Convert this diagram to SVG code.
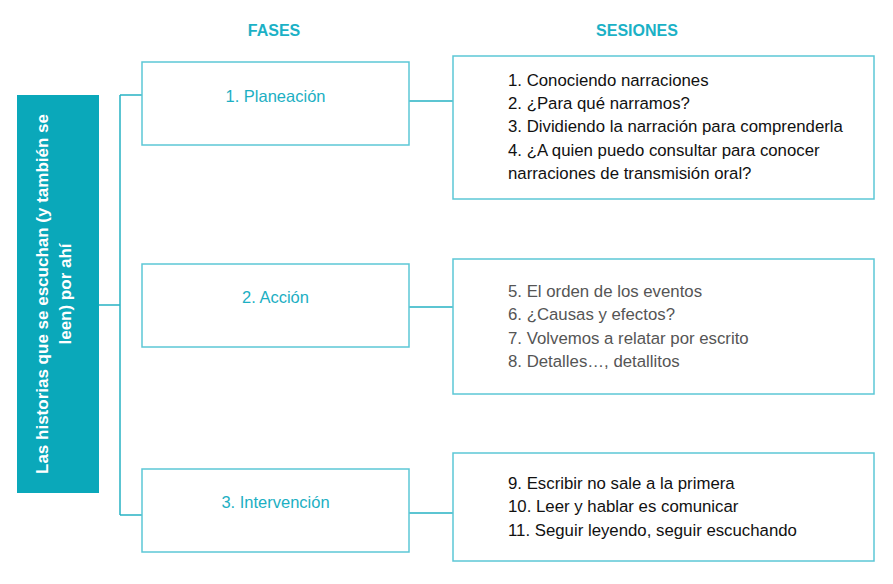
<svg xmlns="http://www.w3.org/2000/svg" width="893" height="584" viewBox="0 0 893 584">
<style>
.box{fill:#fff;stroke:#5cc7d6;stroke-width:1.5}
.con{fill:none;stroke:#27b2c4;stroke-width:1.5}
.hdr{font-family:"Liberation Sans",Arial,sans-serif;font-size:16px;font-weight:bold;fill:#1bb1c6;text-anchor:middle}
.ph{font-family:"Liberation Sans",Arial,sans-serif;font-size:16.5px;fill:#1cafc3;text-anchor:middle}
.ses{font-family:"Liberation Sans",Arial,sans-serif;font-size:16.8px;fill:#111}
.ses2{font-family:"Liberation Sans",Arial,sans-serif;font-size:16.8px;fill:#555}
.side{font-family:"Liberation Sans",Arial,sans-serif;font-size:17px;font-weight:bold;fill:#fff;text-anchor:middle}
</style>
<rect width="893" height="584" fill="#fff"/>
<text class="hdr" x="274" y="36">FASES</text>
<text class="hdr" x="637" y="36">SESIONES</text>
<g id="connectors">
<path class="con" d="M99 305 H120 M120 95 V515 M120 95 H142 M120 515 H142"/>
<path class="con" d="M409 101 H453 M409 307 H453 M409 513 H453"/>
</g>
<g id="tema">
<rect x="17" y="95" width="82" height="398" fill="#0aa8ba"/>
<text class="side" transform="translate(48,294) rotate(-90)">Las historias que se escuchan (y también se</text>
<text class="side" transform="translate(71,294) rotate(-90)">leen) por ahí</text>
</g>
<g id="fase1">
<rect class="box" x="142" y="62" width="267" height="83"/>
<text class="ph" x="275.5" y="102">1. Planeación</text>
</g>
<g id="fase2">
<rect class="box" x="142" y="264" width="267" height="83"/>
<text class="ph" x="275.5" y="303">2. Acción</text>
</g>
<g id="fase3">
<rect class="box" x="142" y="469" width="267" height="83"/>
<text class="ph" x="275.5" y="508">3. Intervención</text>
</g>
<g id="sesiones1">
<rect class="box" x="453" y="56" width="421" height="143"/>
<text class="ses" x="508" y="86">1. Conociendo narraciones</text>
<text class="ses" x="508" y="109">2. ¿Para qué narramos?</text>
<text class="ses" x="508" y="132">3. Dividiendo la narración para comprenderla</text>
<text class="ses" x="508" y="156">4. ¿A quien puedo consultar para conocer</text>
<text class="ses" x="508" y="179">narraciones de transmisión oral?</text>
</g>
<g id="sesiones2">
<rect class="box" x="453" y="259" width="421" height="135"/>
<text class="ses2" x="508" y="297">5. El orden de los eventos</text>
<text class="ses2" x="508" y="320">6. ¿Causas y efectos?</text>
<text class="ses2" x="508" y="344">7. Volvemos a relatar por escrito</text>
<text class="ses2" x="508" y="367">8. Detalles…, detallitos</text>
</g>
<g id="sesiones3">
<rect class="box" x="453" y="453" width="421" height="108"/>
<text class="ses" x="508" y="489">9. Escribir no sale a la primera</text>
<text class="ses" x="508" y="512">10. Leer y hablar es comunicar</text>
<text class="ses" x="508" y="536">11. Seguir leyendo, seguir escuchando</text>
</g>
</svg>
